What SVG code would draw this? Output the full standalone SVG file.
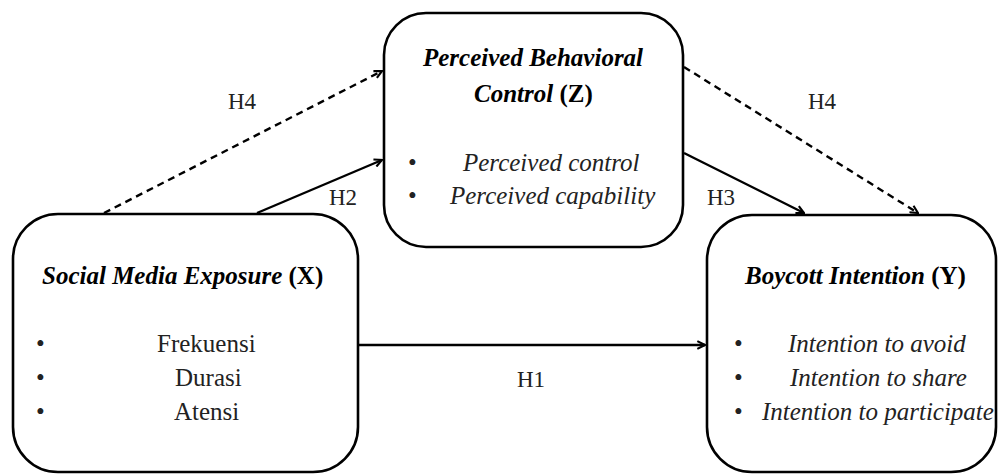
<svg xmlns="http://www.w3.org/2000/svg" width="998" height="475" viewBox="0 0 998 475">
<defs>
<marker id="ah" viewBox="0 0 10 10" refX="9" refY="5" markerWidth="4" markerHeight="4" orient="auto" markerUnits="strokeWidth">
<path d="M1,1 L9,5 L1,9" fill="none" stroke="#000" stroke-width="2.2"/>
</marker>
</defs>
<rect width="998" height="475" fill="#fff"/>
<g id="connectors">
<g fill="none" stroke="#000" stroke-width="2.4" marker-end="url(#ah)">
<line stroke-dasharray="7 5" x1="104" y1="213" x2="382" y2="71"/>
<line x1="257" y1="213" x2="382" y2="160"/>
<line x1="684" y1="153" x2="804" y2="213"/>
<line stroke-dasharray="7 5" x1="684" y1="67" x2="918" y2="213"/>
<line x1="358" y1="345" x2="705" y2="345"/>
</g>
<text font-family="Liberation Serif" font-size="23" fill="#222" x="228" y="109">H4</text>
<text font-family="Liberation Serif" font-size="23" fill="#222" x="329" y="205">H2</text>
<text font-family="Liberation Serif" font-size="23" fill="#222" x="707" y="205">H3</text>
<text font-family="Liberation Serif" font-size="23" fill="#222" x="808" y="109">H4</text>
<text font-family="Liberation Serif" font-size="23" fill="#222" x="517" y="387">H1</text>
</g>
<g id="nodeZ">
<rect fill="#fff" stroke="#000" stroke-width="2.6" x="384" y="13" width="299" height="234" rx="42"/>
<text font-family="Liberation Serif" font-size="25" font-weight="bold" font-style="italic" x="423" y="66">Perceived Behavioral</text>
<text font-family="Liberation Serif" font-size="25" font-weight="bold" font-style="italic" x="474" y="102">Control <tspan font-style="normal">(Z)</tspan></text>
<text font-family="Liberation Serif" font-size="25" fill="#222" x="408" y="171">•</text>
<text font-family="Liberation Serif" font-size="25" fill="#222" x="408" y="204">•</text>
<text font-family="Liberation Serif" font-size="25" font-style="italic" fill="#222" x="463" y="171">Perceived control</text>
<text font-family="Liberation Serif" font-size="25" font-style="italic" fill="#222" x="450" y="204">Perceived capability</text>
</g>
<g id="nodeX">
<rect fill="#fff" stroke="#000" stroke-width="2.6" x="13" y="214" width="345" height="258" rx="45"/>
<text font-family="Liberation Serif" font-size="25" font-weight="bold" font-style="italic" x="42" y="284">Social Media Exposure <tspan font-style="normal">(X)</tspan></text>
<text font-family="Liberation Serif" font-size="25" fill="#222" x="36" y="352">•</text>
<text font-family="Liberation Serif" font-size="25" fill="#222" x="36" y="386">•</text>
<text font-family="Liberation Serif" font-size="25" fill="#222" x="36" y="420">•</text>
<text font-family="Liberation Serif" font-size="25" fill="#222" x="157" y="352">Frekuensi</text>
<text font-family="Liberation Serif" font-size="25" fill="#222" x="175" y="386">Durasi</text>
<text font-family="Liberation Serif" font-size="25" fill="#222" x="174" y="420">Atensi</text>
</g>
<g id="nodeY">
<rect fill="#fff" stroke="#000" stroke-width="2.6" x="707" y="215" width="289" height="257" rx="45"/>
<text font-family="Liberation Serif" font-size="25" font-weight="bold" font-style="italic" x="745" y="284">Boycott Intention <tspan font-style="normal">(Y)</tspan></text>
<text font-family="Liberation Serif" font-size="25" fill="#222" x="734" y="352">•</text>
<text font-family="Liberation Serif" font-size="25" fill="#222" x="734" y="386">•</text>
<text font-family="Liberation Serif" font-size="25" fill="#222" x="734" y="420">•</text>
<text font-family="Liberation Serif" font-size="25" font-style="italic" fill="#222" x="788" y="352">Intention to avoid</text>
<text font-family="Liberation Serif" font-size="25" font-style="italic" fill="#222" x="790" y="386">Intention to share</text>
<text font-family="Liberation Serif" font-size="25" font-style="italic" fill="#222" x="762" y="420">Intention to participate</text>
</g>
</svg>
